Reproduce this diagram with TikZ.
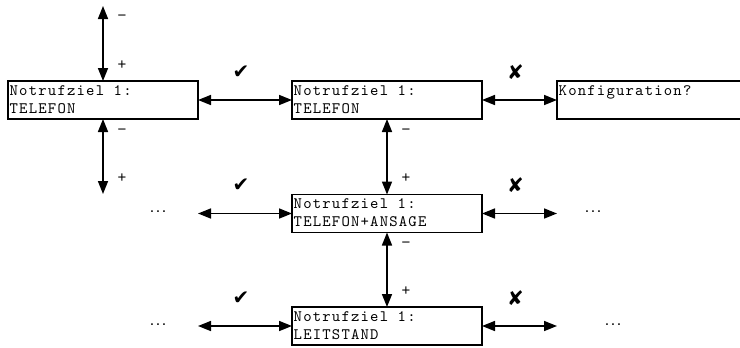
\documentclass[tikz,border=0pt]{standalone}
\usepackage{fontspec}
\newfontfamily\symfont{DejaVu Sans}
\newfontfamily\labfont{Liberation Sans}
% display font: typewriter, letter-spaced like an LCD panel
\newfontfamily\lcdfont{lmmono10-regular.otf}[LetterSpace=7.5]
\usetikzlibrary{arrows.meta,calc}

\newcommand\lcdtype{\lcdfont\fontsize{16pt}{18pt}\selectfont}

\tikzset{
  lcd/.style={draw, line width=1.6bp, minimum width=190bp, minimum height=38bp,
              inner sep=0pt, outer sep=0pt},
  lcdtxt/.style={anchor=base west, inner sep=0pt, font=\lcdtype},
  link/.style={line width=1.6bp,
               {Triangle[length=13bp,width=10bp]}-{Triangle[length=13bp,width=10bp]}},
  pm/.style={font=\labfont\fontsize{15pt}{15pt}\selectfont, xshift=19bp, inner sep=0pt},
  okmark/.style={font=\symfont\fontsize{20pt}{20pt}\selectfont, yshift=28bp, xshift=-4bp, inner sep=0pt},
  more/.style={font=\labfont\fontsize{16pt}{16pt}\selectfont, inner sep=0pt}
}

\begin{document}
\begin{tikzpicture}[x=1bp, y=-1bp]
  \useasboundingbox (0,0) rectangle (740,347);

  % display panels
  \node[lcd] (p1) at (103,100) {};
  \node[lcd] (p2) at (387,100) {};
  \node[lcd] (pk) at (652,100) {};
  \node[lcd] (p3) at (387,213.5) {};
  \node[lcd] (p4) at (387,326) {};

  % panel texts
  \node[lcdtxt] (p1a) at ([shift={(1.5,14)}]p1.north west) {Notrufziel 1:};
  \node[lcdtxt] (p1b) at ([shift={(1.5,32)}]p1.north west) {TELEFON};
  \node[lcdtxt] (p2a) at ([shift={(1.5,14)}]p2.north west) {Notrufziel 1:};
  \node[lcdtxt] (p2b) at ([shift={(1.5,32)}]p2.north west) {TELEFON};
  \node[lcdtxt] (pka) at ([shift={(1.5,14)}]pk.north west) {Konfiguration?};
  \node[lcdtxt] (p3a) at ([shift={(1.5,14)}]p3.north west) {Notrufziel 1:};
  \node[lcdtxt] (p3b) at ([shift={(1.5,32)}]p3.north west) {TELEFON+ANSAGE};
  \node[lcdtxt] (p4a) at ([shift={(1.5,14)}]p4.north west) {Notrufziel 1:};
  \node[lcdtxt] (p4b) at ([shift={(1.5,32)}]p4.north west) {LEITSTAND};

  % continuation marks
  \node[more] (m2l) at (158,211.5) {.\hspace{1.6pt}.\hspace{1.6pt}.};
  \node[more] (m2r) at (593,211.5) {.\hspace{1.6pt}.\hspace{1.6pt}.};
  \node[more] (m3l) at (158,324.5) {.\hspace{1.6pt}.\hspace{1.6pt}.};
  \node[more] (m3r) at (613,324.5) {.\hspace{1.6pt}.\hspace{1.6pt}.};

  % free arrow ends
  \coordinate (u1) at (103,6);
  \coordinate (d1) at (103,194);
  \coordinate (l2) at (198,213.5);
  \coordinate (r2) at (557,213.5);
  \coordinate (l3) at (198,326);
  \coordinate (r3) at (557,326);

  % vertical navigation
  \draw[link] (u1) -- (p1.north) node[pm, pos=.16] {−} node[pm, pos=.79] {+};
  \draw[link] (p1.south) -- (d1) node[pm, pos=.17] {−} node[pm, pos=.79] {+};
  \draw[link] (p2.south) -- (p3.north) node[pm, pos=.17] {−} node[pm, pos=.79] {+};
  \draw[link] (p3.south) -- (p4.north) node[pm, pos=.17] {−} node[pm, pos=.79] {+};

  % horizontal navigation
  \draw[link] (p1.east) -- (p2.west) node[okmark, midway] {✔};
  \draw[link] (p2.east) -- (pk.west) node[okmark, midway] {✘};
  \draw[link] (l2) -- (p3.west) node[okmark, midway] {✔};
  \draw[link] (p3.east) -- (r2) node[okmark, midway] {✘};
  \draw[link] (l3) -- (p4.west) node[okmark, midway] {✔};
  \draw[link] (p4.east) -- (r3) node[okmark, midway] {✘};
\end{tikzpicture}
\end{document}
